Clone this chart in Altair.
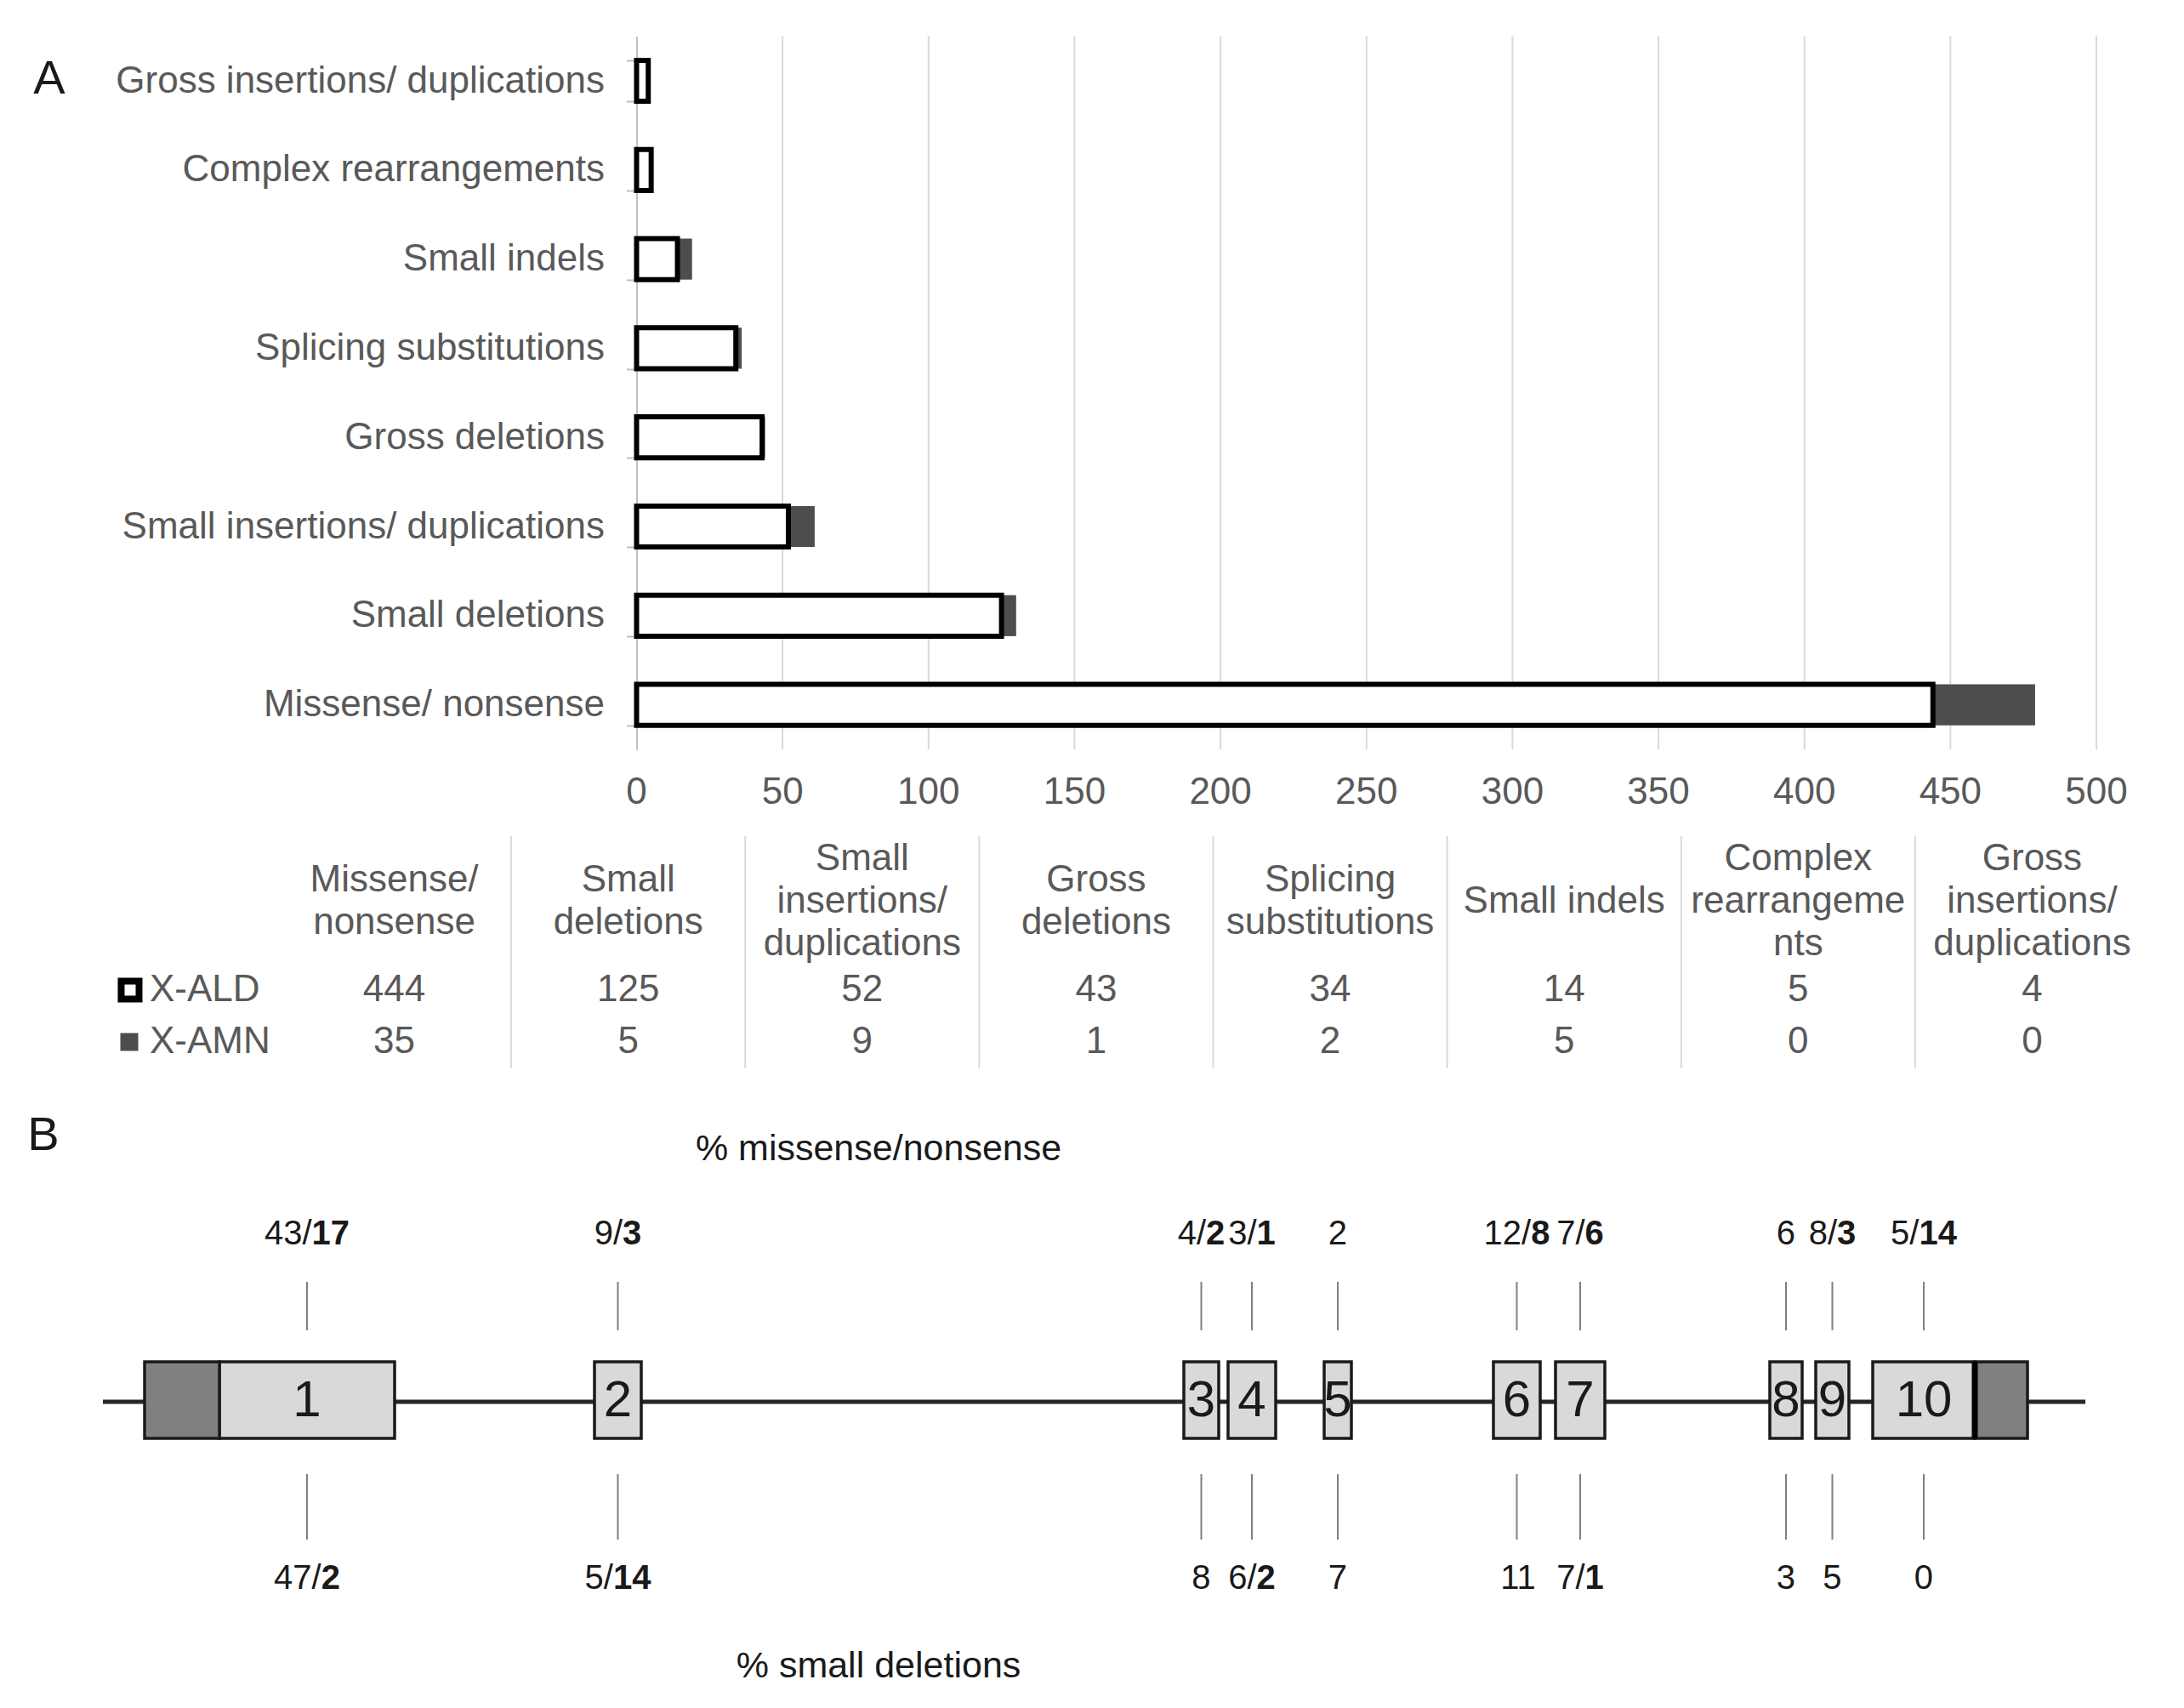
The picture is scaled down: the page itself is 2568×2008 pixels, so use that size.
import altair as alt
import pandas as pd

# ---------------- data ----------------
categories = ["Missense/ nonsense", "Small deletions", "Small insertions/ duplications",
              "Gross deletions", "Splicing substitutions", "Small indels",
              "Complex rearrangements", "Gross insertions/ duplications"]
x_ald = [444, 125, 52, 43, 34, 14, 5, 4]
x_amn = [35, 5, 9, 1, 2, 5, 0, 0]
table_headers = ["Missense/\nnonsense", "Small\ndeletions", "Small\ninsertions/\nduplications",
                 "Gross\ndeletions", "Splicing\nsubstitutions", "Small indels",
                 "Complex\nrearrangeme\nnts", "Gross\ninsertions/\nduplications"]
series_names = ["X-ALD", "X-AMN"]
x_ticks = [0, 50, 100, 150, 200, 250, 300, 350, 400, 450, 500]

# gene diagram (relative positions along the drawn gene)
gene_length = 2331
exon_labels = ["1", "2", "3", "4", "5", "6", "7", "8", "9", "10"]
exon_start = [137, 578, 1271, 1323, 1436, 1635, 1708, 1960, 2014, 2081]
exon_end = [343, 633, 1312, 1379, 1468, 1690, 1766, 1998, 2053, 2201]
utr_side = ["5'", "3'"]
utr_start = [49, 2201]
utr_end = [137, 2263]
top_plain = ["43", "9", "4", "3", "2", "12", "7", "6", "8", "5"]
top_bold = ["17", "3", "2", "1", "", "8", "6", "", "3", "14"]
bottom_plain = ["47", "5", "8", "6", "7", "11", "7", "3", "5", "0"]
bottom_bold = ["2", "14", "", "2", "", "", "1", "", "", ""]

# ---------------- layout ----------------
M = 8


def P(v):
    return v - M


FONT = "Liberation Sans, Arial, Helvetica, sans-serif"
GRAY_TXT = "#595959"
FS = 44
FSB = 40
LH = 50

# ---------------- panel A: bars ----------------
bar_order = categories[::-1]
bars_df = pd.DataFrame({"cat": categories, "ald": x_ald, "amn": x_amn})
xA = alt.Scale(domain=[0, 500], range=[P(748.5), P(2465)], nice=False, zero=False)
yA = alt.Scale(domain=bar_order, range=[P(42.6), P(881)], paddingInner=0.54, paddingOuter=0.27)
yA_axis = alt.Axis(title=None, orient="left", offset=-P(748.5), domainColor="#bfbfbf",
                   domainWidth=2, tickColor="#bfbfbf", tickWidth=2, tickSize=12,
                   tickBand="extent", labelFont=FONT, labelFontSize=FS, labelColor=GRAY_TXT,
                   labelPadding=26, labelLimit=1500, grid=False)

grid = alt.Chart(pd.DataFrame({"t": x_ticks[1:]})).mark_rule(
    color="#d9d9d9", strokeWidth=2).encode(
    x=alt.X("t:Q", scale=xA, axis=None),
    y=alt.value(P(42.6)), y2=alt.value(P(881)))

amn_bar = alt.Chart(bars_df).transform_calculate(
    total="datum.ald + datum.amn").mark_bar(color="#4d4d4d").encode(
    x=alt.X("ald:Q", scale=xA, axis=None), x2="total:Q",
    y=alt.Y("cat:N", scale=yA, axis=yA_axis))

ald_bar = alt.Chart(bars_df).transform_calculate(base="0").mark_bar(
    fill="white", stroke="black", strokeWidth=6).encode(
    x=alt.X("base:Q", scale=xA, axis=None), x2="ald:Q",
    y=alt.Y("cat:N", scale=yA, axis=yA_axis))

tick_txt = alt.Chart(pd.DataFrame({"t": x_ticks})).mark_text(
    font=FONT, fontSize=FS, color=GRAY_TXT, baseline="middle").encode(
    x=alt.X("t:Q", scale=xA, axis=None), y=alt.value(P(932)),
    text=alt.Text("t:Q", format="d"))

layerA = alt.layer(grid, amn_bar, ald_bar, tick_txt)

# ---------------- panel A: table ----------------
tab_df = pd.DataFrame({"hdr": table_headers, "ald": x_ald, "amn": x_amn,
                       "i": list(range(len(categories))),
                       "nl": [h.count("\n") + 1 for h in table_headers]})
xT = alt.Scale(domain=[0, len(categories)], range=[P(326), P(2527)], nice=False, zero=False)

seps = alt.Chart(tab_df).transform_filter("datum.i > 0").mark_rule(
    color="#d9d9d9", strokeWidth=2).encode(
    x=alt.X("i:Q", scale=xT, axis=None), y=alt.value(P(983)), y2=alt.value(P(1256)))

tbase = alt.Chart(tab_df).transform_calculate(c="datum.i + 0.5")
hdr_layers = []
for n in (1, 2, 3):
    hdr_layers.append(
        tbase.transform_filter(f"datum.nl == {n}").mark_text(
            font=FONT, fontSize=FS, color=GRAY_TXT, lineBreak="\n",
            lineHeight=LH, baseline="middle").encode(
            x=alt.X("c:Q", scale=xT, axis=None),
            y=alt.value(P(1060 - (n - 1) * LH / 2)), text="hdr:N"))
v_ald = tbase.mark_text(font=FONT, fontSize=FS, color=GRAY_TXT, baseline="middle").encode(
    x=alt.X("c:Q", scale=xT, axis=None), y=alt.value(P(1164)), text="ald:Q")
v_amn = tbase.mark_text(font=FONT, fontSize=FS, color=GRAY_TXT, baseline="middle").encode(
    x=alt.X("c:Q", scale=xT, axis=None), y=alt.value(P(1225)), text="amn:Q")

leg_df = pd.DataFrame({"s": series_names})
sq_ald = alt.Chart(leg_df).transform_filter(alt.datum.s == series_names[0]).mark_square(
    fill="white", stroke="black", strokeWidth=8, size=21 * 21, opacity=1).encode(
    x=alt.value(P(153)), y=alt.value(P(1164)))
sq_amn = alt.Chart(leg_df).transform_filter(alt.datum.s == series_names[1]).mark_square(
    color="#4d4d4d", size=21 * 21, opacity=1).encode(
    x=alt.value(P(152)), y=alt.value(P(1225)))
lt_ald = alt.Chart(leg_df).transform_filter(alt.datum.s == series_names[0]).mark_text(
    font=FONT, fontSize=FS, color=GRAY_TXT, align="left", baseline="middle").encode(
    x=alt.value(P(176)), y=alt.value(P(1164)), text="s:N")
lt_amn = alt.Chart(leg_df).transform_filter(alt.datum.s == series_names[1]).mark_text(
    font=FONT, fontSize=FS, color=GRAY_TXT, align="left", baseline="middle").encode(
    x=alt.value(P(176)), y=alt.value(P(1225)), text="s:N")

layerT = alt.layer(seps, *hdr_layers, v_ald, v_amn, sq_ald, sq_amn, lt_ald, lt_amn)

# ---------------- panel B: gene ----------------
xG = alt.Scale(domain=[0, gene_length], range=[P(121), P(2452)], nice=False, zero=False)
ex_df = pd.DataFrame({"lab": exon_labels, "s": exon_start, "e": exon_end,
                      "tp": top_plain, "tb": top_bold, "bp": bottom_plain, "bb": bottom_bold})
utr_df = pd.DataFrame({"side": utr_side, "s": utr_start, "e": utr_end})
bb_df = pd.DataFrame({"s": [0], "e": [gene_length]})

backbone = alt.Chart(bb_df).mark_rule(color="#262626", strokeWidth=5).encode(
    x=alt.X("s:Q", scale=xG, axis=None), x2="e:Q", y=alt.value(P(1648)))
exons = alt.Chart(ex_df).mark_rect(fill="#d9d9d9", stroke="#1a1a1a", strokeWidth=3.5).encode(
    x=alt.X("s:Q", scale=xG, axis=None), x2="e:Q", y=alt.value(P(1601)), y2=alt.value(P(1691)))
utrs = alt.Chart(utr_df).mark_rect(fill="#808080", stroke="#1a1a1a", strokeWidth=3.5).encode(
    x=alt.X("s:Q", scale=xG, axis=None), x2="e:Q", y=alt.value(P(1601)), y2=alt.value(P(1691)))
utr_edge = alt.Chart(utr_df).transform_filter(alt.datum.side == utr_side[1]).mark_rule(
    color="#000000", strokeWidth=7).encode(
    x=alt.X("s:Q", scale=xG, axis=None), y=alt.value(P(1601)), y2=alt.value(P(1691)))

gbase = alt.Chart(ex_df).transform_calculate(cx="(datum.s + datum.e) / 2")
ex_num = gbase.mark_text(font=FONT, fontSize=60, color="#1a1a1a", baseline="middle").encode(
    x=alt.X("cx:Q", scale=xG, axis=None), y=alt.value(P(1647)), text="lab:N")
tick_top = gbase.mark_rule(color="#7f7f7f", strokeWidth=2).encode(
    x=alt.X("cx:Q", scale=xG, axis=None), y=alt.value(P(1507)), y2=alt.value(P(1564)))
tick_bot = gbase.mark_rule(color="#7f7f7f", strokeWidth=2).encode(
    x=alt.X("cx:Q", scale=xG, axis=None), y=alt.value(P(1733)), y2=alt.value(P(1810)))


def split_labels(pf, bf, ypos):
    base = alt.Chart(ex_df).transform_calculate(
        cx="(datum.s + datum.e) / 2",
        has=f"length(datum.{bf}) > 0",
        ptxt=f"length(datum.{bf}) > 0 ? datum.{pf} + '/' : datum.{pf}",
        wn=f"(length(datum.{pf}) * 0.556 + (length(datum.{bf}) > 0 ? 0.278 : 0)) * {FSB}",
        wb=f"length(datum.{bf}) * 0.556 * {FSB}",
    ).transform_calculate(anchor="datum.cx + (datum.wn - datum.wb) / 2")
    plain = base.mark_text(font=FONT, fontSize=FSB, color="#1a1a1a", align="right",
                           baseline="middle").encode(
        x=alt.X("anchor:Q", scale=xG, axis=None), y=alt.value(P(ypos)), text="ptxt:N")
    bold = base.transform_filter("datum.has").mark_text(
        font=FONT, fontSize=FSB, fontWeight="bold", color="#1a1a1a", align="left",
        baseline="middle").encode(
        x=alt.X("anchor:Q", scale=xG, axis=None), y=alt.value(P(ypos)), text=f"{bf}:N")
    return [plain, bold]


layerG = alt.layer(backbone, exons, utrs, utr_edge, ex_num, tick_top, tick_bot,
                   *split_labels("tp", "tb", 1451), *split_labels("bp", "bb", 1856))

# ---------------- annotations ----------------
ann_df = pd.DataFrame({"t": ["A", "B", "% missense/nonsense", "% small deletions"]})


def ann(text, x, y, size, align="center"):
    return alt.Chart(ann_df).transform_filter(alt.datum.t == text).mark_text(
        font=FONT, fontSize=size, color="#1a1a1a", align=align, baseline="middle").encode(
        x=alt.value(P(x)), y=alt.value(P(y)), text="t:N")


annots = alt.layer(ann("A", 58, 93, 56), ann("B", 51, 1335, 56),
                   ann("% missense/nonsense", 1033, 1351, 43),
                   ann("% small deletions", 1033, 1959, 43))

chart = alt.layer(layerA, layerT, layerG, annots).resolve_scale(
    x="independent", y="independent").properties(
    width=2552, height=1992, padding=0,
    autosize=alt.AutoSizeParams(type="none")).configure_view(strokeWidth=0)

chart.save("out.html", embed_options={"renderer": "svg", "actions": False})
